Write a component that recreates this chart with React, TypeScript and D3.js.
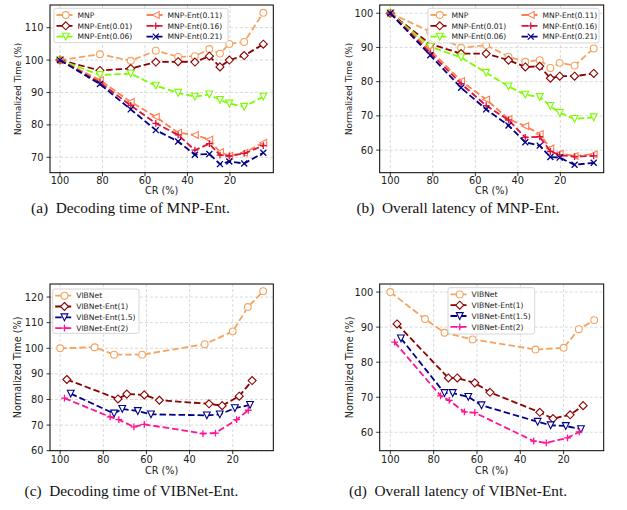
import * as d3 from "d3";

// CR (%) positions shared by every MNP series
const CR_MNP = [100, 81.2, 66.7, 54.9, 44.4, 36.5, 29.7, 24.7, 20.3, 13.3, 4.3];

// (a) decoding time, normalized (%)
const decMNP = [100, 101.8, 99.8, 102.9, 101, 101.2, 103.4, 102, 105, 105.6, 114.6];
const decEnt001 = [100, 96.8, 97.4, 99.4, 99.5, 99.4, 101.2, 97.9, 100, 101.4, 104.9];
const decEnt006 = [100, 95.4, 95.8, 92.1, 89.9, 88.7, 89.4, 87.7, 86.6, 85.6, 88.7];
const decEnt011 = [100, 93.8, 87.1, 82.5, 77.6, 76.9, 75.5, 71.6, 70.5, 71.4, 74.5];
const decEnt016 = [100, 93.1, 86, 80.5, 76.9, 72.2, 74.2, 70.7, 70.4, 71.2, 73.6];
const decEnt021 = [100, 92.6, 84.8, 78.4, 74.9, 70.8, 71, 67.9, 68.7, 68.1, 71.4];

// (b) overall latency, normalized (%)
const latMNP = [100, 94.6, 89.9, 90.7, 87.3, 85.8, 86.3, 84, 85.5, 84.7, 89.7];
const latEnt001 = [100, 91, 88.2, 88.2, 86.3, 84.3, 84.5, 81, 81.6, 81.6, 82.4];
const latEnt006 = [100, 90.2, 87.1, 82.6, 78.6, 76.2, 75.5, 72.9, 70.9, 69.1, 69.6];
const latEnt011 = [100, 89.2, 80.2, 74.8, 69.1, 67, 64.7, 60.5, 59, 58.3, 58.8];
const latEnt016 = [100, 88.4, 79.4, 73, 68.8, 63.7, 63.9, 59.6, 58.6, 58.1, 58.3];
const latEnt021 = [100, 87.7, 78.2, 71.9, 67.2, 62.3, 61.3, 58, 57.8, 55.7, 56.3];

// VIBNet series have their own CR positions
const CR_VIB = [100, 84, 75, 62, 33, 20, 13, 5.9];
const CR_VIB1 = [96.9, 73.2, 69.1, 61, 54, 31, 24.9, 17, 11];
const CR_VIB15 = [95.1, 75, 71.2, 64, 57.9, 32, 26, 19, 12];
const CR_VIB2 = [98, 76.8, 72.8, 65.8, 61, 33.8, 28, 18.2, 12.8];

const decVIB = [100, 100.4, 97.5, 97.5, 101.6, 106.6, 116.1, 122.3];
const decVIB1 = [87.8, 80.2, 82.1, 81.8, 79.7, 78.3, 77.6, 81.3, 87.4];
const decVIB15 = [82.3, 74.5, 76.3, 75.5, 74.2, 73.8, 74.2, 76.6, 77.9];
const decVIB2 = [80.5, 73.2, 72.1, 69.3, 70.3, 66.7, 66.9, 72.1, 75.8];

const latVIB = [100, 92.3, 88.4, 86.5, 83.6, 84.1, 89.4, 92];
const latVIB1 = [90.9, 75.5, 75.5, 74.1, 71.4, 65.7, 63.9, 65, 67.6];
const latVIB15 = [86.8, 71.2, 71.2, 70.1, 67.7, 63, 62, 61.8, 60.9];
const latVIB2 = [85.7, 70.4, 69.1, 65.8, 65.6, 57.5, 57, 58.4, 60.1];

const X_TICKS = [100, 80, 60, 40, 20];
const Y_TICKS_A = [70, 80, 90, 100, 110];
const Y_TICKS_B = [60, 70, 80, 90, 100];
const Y_TICKS_C = [60, 70, 80, 90, 100, 110, 120];
const Y_TICKS_D = [60, 70, 80, 90, 100];

const C = {
  sandy: "#f4a460",
  darkred: "#8b0000",
  green: "#7cfc00",
  coral: "#ff7f50",
  crimson: "#dc143c",
  navy: "#00008b",
  pink: "#ff1493",
};

const SANS = "DejaVu Sans, sans-serif";
const SERIF = "Liberation Serif, serif";

type Series = { name: string; color: string; marker: string; x: number[]; y: number[] };

function mnpSeries(ys: number[][]): Series[] {
  const names = ["MNP", "MNP-Ent(0.01)", "MNP-Ent(0.06)", "MNP-Ent(0.11)", "MNP-Ent(0.16)", "MNP-Ent(0.21)"];
  const colors = [C.sandy, C.darkred, C.green, C.coral, C.crimson, C.navy];
  const markers = ["o", "D", "v", "<", "+", "x"];
  return names.map((name, i) => ({ name, color: colors[i], marker: markers[i], x: CR_MNP, y: ys[i] }));
}

function vibSeries(ys: number[][]): Series[] {
  const names = ["VIBNet", "VIBNet-Ent(1)", "VIBNet-Ent(1.5)", "VIBNet-Ent(2)"];
  const colors = [C.sandy, C.darkred, C.navy, C.pink];
  const markers = ["o", "D", "v", "+"];
  const xs = [CR_VIB, CR_VIB1, CR_VIB15, CR_VIB2];
  return names.map((name, i) => ({ name, color: colors[i], marker: markers[i], x: xs[i], y: ys[i] }));
}

function Marker({ type, x, y, color }: { type: string; x: number; y: number; color: string }) {
  const r = 3.4;
  const common = { stroke: color, strokeWidth: 1.1, fill: "#fff" };
  if (type === "o") return <circle cx={x} cy={y} r={r} {...common} />;
  if (type === "D")
    return <path d={`M${x},${y - 4}L${x + 4},${y}L${x},${y + 4}L${x - 4},${y}Z`} {...common} />;
  if (type === "v")
    return <path d={`M${x},${y + r}L${x - r},${y - r}L${x + r},${y - r}Z`} {...common} />;
  if (type === "<")
    return <path d={`M${x - r},${y}L${x + r},${y - r}L${x + r},${y + r}Z`} {...common} />;
  if (type === "+")
    return <path d={`M${x - r},${y}H${x + r}M${x},${y - r}V${y + r}`} stroke={color} strokeWidth={1.3} fill="none" />;
  return (
    <path
      d={`M${x - 3},${y - 3}L${x + 3},${y + 3}M${x - 3},${y + 3}L${x + 3},${y - 3}`}
      stroke={color}
      strokeWidth={1.3}
      fill="none"
    />
  );
}

type PanelProps = {
  left: number;
  top: number;
  width: number;
  height: number;
  xDomain: [number, number];
  yDomain: [number, number];
  yTicks: number[];
  series: Series[];
  legend: { x: number; y: number; w: number; h: number; rows: number; colStep: number };
  ylabelX: number;
  ylabelSize: number;
  xtickY: number;
  xlabelY: number;
  caption: string;
  captionX: number;
  captionY: number;
};

function Panel(p: PanelProps) {
  const x = d3.scaleLinear().domain(p.xDomain).range([p.left, p.left + p.width]);
  const y = d3.scaleLinear().domain(p.yDomain).range([p.top + p.height, p.top]);
  const line = d3
    .line<[number, number]>()
    .x((d) => x(d[0]))
    .y((d) => y(d[1]));
  const clipId = `clip-${Math.round(p.left)}-${Math.round(p.top)}`;
  const bottom = p.top + p.height;
  const lg = p.legend;

  return (
    <g>
      <defs>
        <clipPath id={clipId}>
          <rect x={p.left} y={p.top} width={p.width} height={p.height} />
        </clipPath>
      </defs>
      {/* grid */}
      {X_TICKS.map((t) => (
        <line key={"gx" + t} x1={x(t)} x2={x(t)} y1={p.top} y2={bottom} stroke="#d0d0d0" strokeWidth={0.8} strokeDasharray="3,2" />
      ))}
      {p.yTicks.map((t) => (
        <line key={"gy" + t} x1={p.left} x2={p.left + p.width} y1={y(t)} y2={y(t)} stroke="#d0d0d0" strokeWidth={0.8} strokeDasharray="3,2" />
      ))}
      {/* series */}
      <g clipPath={`url(#${clipId})`}>
        {p.series.map((s) => {
          const pts = s.x.map((v, i) => [v, s.y[i]] as [number, number]);
          return (
            <g key={s.name}>
              <path d={line(pts) ?? ""} fill="none" stroke={s.color} strokeWidth={1.8} strokeDasharray="6.5,3" />
              {pts.map((d, i) => (
                <Marker key={i} type={s.marker} x={x(d[0])} y={y(d[1])} color={s.color} />
              ))}
            </g>
          );
        })}
      </g>
      {/* frame */}
      <rect x={p.left} y={p.top} width={p.width} height={p.height} fill="none" stroke="#000" strokeWidth={1} />
      {/* ticks */}
      {X_TICKS.map((t) => (
        <g key={"tx" + t}>
          <line x1={x(t)} x2={x(t)} y1={bottom} y2={bottom + 3.5} stroke="#000" strokeWidth={0.8} />
          <text x={x(t)} y={p.xtickY} textAnchor="middle" fontSize={9.8} fontFamily={SANS} fill="#222">
            {t}
          </text>
        </g>
      ))}
      {p.yTicks.map((t) => (
        <g key={"ty" + t}>
          <line x1={p.left - 3.5} x2={p.left} y1={y(t)} y2={y(t)} stroke="#000" strokeWidth={0.8} />
          <text x={p.left - 6.5} y={y(t) + 3.5} textAnchor="end" fontSize={9.8} fontFamily={SANS} fill="#222">
            {t}
          </text>
        </g>
      ))}
      <text x={p.left + p.width / 2} y={p.xlabelY} textAnchor="middle" fontSize={9.7} fontFamily={SANS} fill="#222">
        CR (%)
      </text>
      <text
        transform={`translate(${p.ylabelX},${p.top + p.height / 2}) rotate(-90)`}
        textAnchor="middle"
        dominantBaseline="middle"
        fontSize={p.ylabelSize}
        fontFamily={SANS}
        fill="#222"
      >
        Normalized Time (%)
      </text>
      {/* legend */}
      <rect x={lg.x} y={lg.y} width={lg.w} height={lg.h} rx={2} fill="#fff" fillOpacity={0.85} stroke="#cccccc" strokeWidth={0.8} />
      {p.series.map((s, i) => {
        const col = Math.floor(i / lg.rows);
        const row = i % lg.rows;
        const hx = lg.x + 2.5 + col * lg.colStep;
        const cy = lg.y + 6.7 + row * 10.8;
        return (
          <g key={"lg" + s.name}>
            <line x1={hx} x2={hx + 18.5} y1={cy} y2={cy} stroke={s.color} strokeWidth={1.8} strokeDasharray="6.5,3" />
            <Marker type={s.marker} x={hx + 9.25} y={cy} color={s.color} />
            <text x={hx + 21} y={cy + 2.7} fontSize={7.6} fontFamily={SANS} fill="#222">
              {s.name}
            </text>
          </g>
        );
      })}
      <text
        x={p.captionX}
        y={p.captionY}
        textAnchor="middle"
        fontSize={15.3}
        fontFamily={SERIF}
        fill="#111"
        style={{ whiteSpace: "pre" }}
      >
        {p.caption}
      </text>
    </g>
  );
}

export default function App() {
  const panels: PanelProps[] = [
    {
      left: 50, top: 5, width: 223.3, height: 167.7,
      xDomain: [104.7, -0.4], yDomain: [65.25, 117], yTicks: Y_TICKS_A,
      series: mnpSeries([decMNP, decEnt001, decEnt006, decEnt011, decEnt016, decEnt021]),
      legend: { x: 54, y: 8.3, w: 174, h: 34.4, rows: 3, colStep: 90 },
      ylabelX: 18, ylabelSize: 8.8, xtickY: 184, xlabelY: 194,
      caption: "(a)  Decoding time of MNP-Ent.", captionX: 130.5, captionY: 213,
    },
    {
      left: 379.7, top: 5, width: 224, height: 167.7,
      xDomain: [105, -0.4], yDomain: [53.4, 102.4], yTicks: Y_TICKS_B,
      series: mnpSeries([latMNP, latEnt001, latEnt006, latEnt011, latEnt016, latEnt021]),
      legend: { x: 428, y: 8.3, w: 171, h: 34.7, rows: 3, colStep: 91 },
      ylabelX: 349.7, ylabelSize: 8.8, xtickY: 184, xlabelY: 194,
      caption: "(b)  Overall latency of MNP-Ent.", captionX: 458, captionY: 213,
    },
    {
      left: 50, top: 284, width: 223.3, height: 166.7,
      xDomain: [104.7, 1.2], yDomain: [60, 125.1], yTicks: Y_TICKS_C,
      series: vibSeries([decVIB, decVIB1, decVIB15, decVIB2]),
      legend: { x: 52.7, y: 289, w: 86.3, h: 44.3, rows: 4, colStep: 0 },
      ylabelX: 18, ylabelSize: 9.7, xtickY: 463, xlabelY: 474,
      caption: "(c)  Decoding time of VIBNet-Ent.", captionX: 131.5, captionY: 496,
    },
    {
      left: 379.7, top: 284, width: 224, height: 166.7,
      xDomain: [104.9, 1.5], yDomain: [54.75, 102.3], yTicks: Y_TICKS_D,
      series: vibSeries([latVIB, latVIB1, latVIB15, latVIB2]),
      legend: { x: 448, y: 287.7, w: 86.7, h: 46.3, rows: 4, colStep: 0 },
      ylabelX: 349.7, ylabelSize: 9.7, xtickY: 463, xlabelY: 474,
      caption: "(d)  Overall latency of VIBNet-Ent.", captionX: 458, captionY: 496,
    },
  ];

  return (
    <svg
      width={627}
      height={510}
      viewBox="0 0 627 510"
      style={{ position: "absolute", left: 0, top: 0, background: "#fff" }}
    >
      <rect width={627} height={510} fill="#fff" />
      {panels.map((p, i) => (
        <Panel key={i} {...p} />
      ))}
    </svg>
  );
}
